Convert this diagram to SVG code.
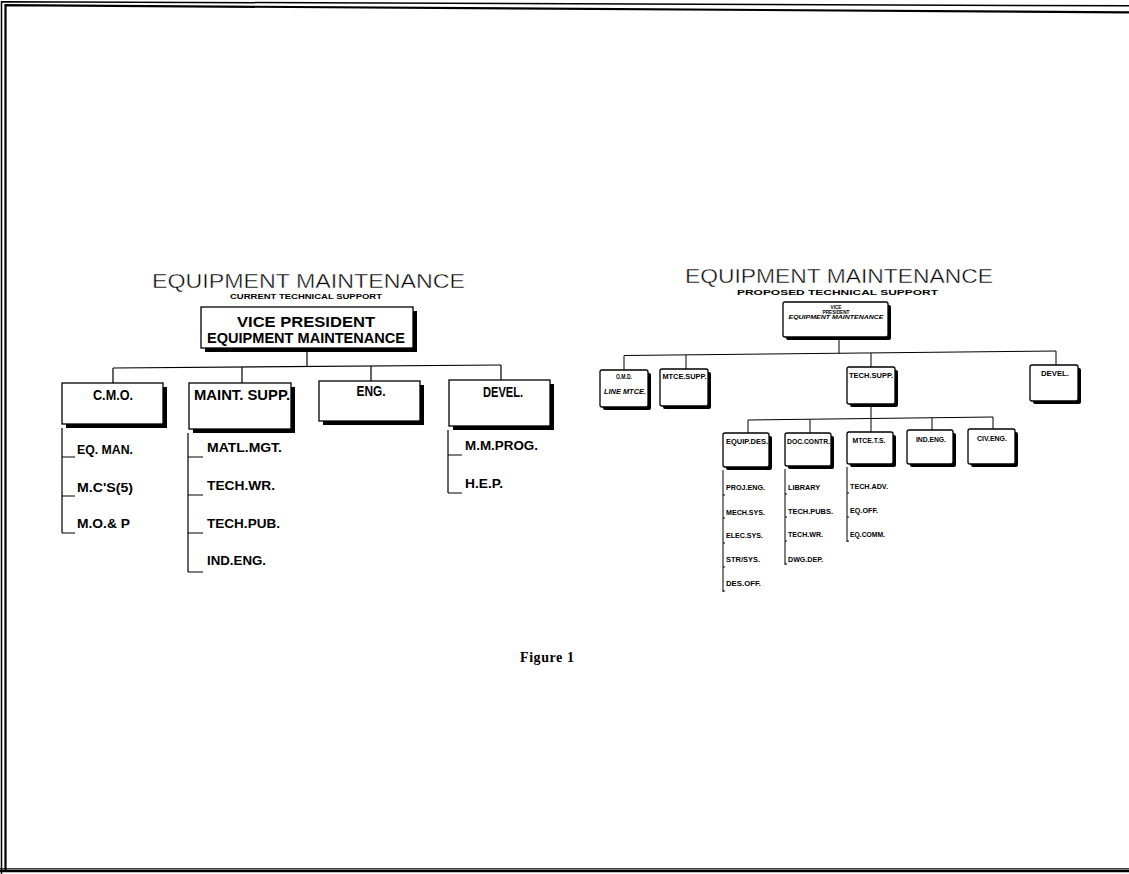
<svg xmlns="http://www.w3.org/2000/svg" width="1129" height="874" viewBox="0 0 1129 874">
<style>
.bg{fill:#fff}
.frm{fill:none;stroke:#000}
.ln{fill:none;stroke:#000;stroke-width:1.2}
.ln2{fill:none;stroke:#000;stroke-width:1}
.box{fill:#fff;stroke:#000;stroke-width:1.3}
.sh{fill:#000}
.title{font-family:"Liberation Sans",Arial,sans-serif;font-size:21px;font-weight:normal;fill:#000;stroke:#fff;stroke-width:0.45}
.sub{font-family:"Liberation Sans",Arial,sans-serif;font-weight:bold;fill:#000}
.lb{font-family:"Liberation Sans",Arial,sans-serif;font-weight:bold;font-size:14px;fill:#000}
.it{font-family:"Liberation Sans",Arial,sans-serif;font-weight:bold;font-size:12.5px;fill:#000}
.sm{font-family:"Liberation Sans",Arial,sans-serif;font-weight:bold;font-size:7px;fill:#000}
.fig{font-family:"Liberation Serif","Times New Roman",serif;font-weight:bold;font-size:14px;fill:#000}
</style>
<rect class="bg" x="0" y="0" width="1129" height="874"/>
<g id="frame">
<path class="frm" stroke-width="1.5" d="M1.5 874 V1.7 L1129 5.8"/>
<path class="frm" stroke-width="2.2" d="M5.5 870 V5.2 L1129 12.3"/>
<path class="frm" stroke-width="1.2" d="M0 868.8 H1129"/>
<path class="frm" stroke-width="2.2" d="M0 871.2 H1129"/>
</g>

<!-- LEFT CHART -->
<g id="left-title">
<text class="title" x="308.5" y="287.5" text-anchor="middle" textLength="313" lengthAdjust="spacingAndGlyphs">EQUIPMENT MAINTENANCE</text>
<text class="sub" x="306" y="299" font-size="8" text-anchor="middle" textLength="152" lengthAdjust="spacingAndGlyphs">CURRENT TECHNICAL SUPPORT</text>
</g>
<g id="left-connectors">
<path class="ln" d="M307 352 V366.5"/>
<path class="ln" d="M113 368 L501 365"/>
<path class="ln" d="M113 368 V383 M242 367 V383 M371 366 V381 M501 365 V380"/>
<path class="ln" d="M62 428 V533 M62 457 H75 M62 496 H75 M62 533 H75"/>
<path class="ln" d="M188 433 V572 M188 457 H203 M188 495 H203 M188 533 H203 M188 572 H203"/>
<path class="ln" d="M448 430 V493 M448 455 H462 M448 493 H462"/>
</g>
<g id="left-vp">
<rect class="sh" x="205" y="311" width="212" height="41"/>
<rect class="box" x="201" y="307" width="212" height="41"/>
<text class="sub" x="306" y="326.5" font-size="15.5" text-anchor="middle" textLength="138" lengthAdjust="spacingAndGlyphs">VICE PRESIDENT</text>
<text class="sub" x="306" y="343" font-size="15.5" text-anchor="middle" textLength="198" lengthAdjust="spacingAndGlyphs">EQUIPMENT MAINTENANCE</text>
</g>
<g id="left-cmo">
<rect class="sh" x="66" y="387" width="101" height="41"/>
<rect class="box" x="62" y="383" width="101" height="41"/>
<text class="lb" x="113" y="400" text-anchor="middle" textLength="40" lengthAdjust="spacingAndGlyphs">C.M.O.</text>
</g>
<g id="left-maint">
<rect class="sh" x="193" y="387" width="102" height="46"/>
<rect class="box" x="189" y="383" width="102" height="46"/>
<text class="lb" x="242" y="400" text-anchor="middle" textLength="96" lengthAdjust="spacingAndGlyphs">MAINT. SUPP.</text>
</g>
<g id="left-eng">
<rect class="sh" x="323" y="385" width="101" height="40"/>
<rect class="box" x="319" y="381" width="101" height="40"/>
<text class="lb" x="371" y="395.5" text-anchor="middle" textLength="29" lengthAdjust="spacingAndGlyphs">ENG.</text>
</g>
<g id="left-devel">
<rect class="sh" x="453" y="384" width="101" height="46"/>
<rect class="box" x="449" y="380" width="101" height="46"/>
<text class="lb" x="503" y="397" text-anchor="middle" textLength="40" lengthAdjust="spacingAndGlyphs">DEVEL.</text>
</g>
<g id="left-items">
<text class="it" x="77" y="454" textLength="56" lengthAdjust="spacingAndGlyphs">EQ. MAN.</text>
<text class="it" x="77" y="492" textLength="56" lengthAdjust="spacingAndGlyphs">M.C'S(5)</text>
<text class="it" x="77" y="528" textLength="53" lengthAdjust="spacingAndGlyphs">M.O.&amp; P</text>
<text class="it" x="207" y="452" textLength="75" lengthAdjust="spacingAndGlyphs">MATL.MGT.</text>
<text class="it" x="207" y="490" textLength="68" lengthAdjust="spacingAndGlyphs">TECH.WR.</text>
<text class="it" x="207" y="528" textLength="73" lengthAdjust="spacingAndGlyphs">TECH.PUB.</text>
<text class="it" x="207" y="565" textLength="59" lengthAdjust="spacingAndGlyphs">IND.ENG.</text>
<text class="it" x="465" y="450" textLength="73" lengthAdjust="spacingAndGlyphs">M.M.PROG.</text>
<text class="it" x="465" y="488" textLength="38" lengthAdjust="spacingAndGlyphs">H.E.P.</text>
</g>

<!-- RIGHT CHART -->
<g id="right-title">
<text class="title" x="839" y="282.5" text-anchor="middle" textLength="308" lengthAdjust="spacingAndGlyphs">EQUIPMENT MAINTENANCE</text>
<text class="sub" x="837.5" y="294.5" font-size="7.2" text-anchor="middle" textLength="201" lengthAdjust="spacingAndGlyphs">PROPOSED TECHNICAL SUPPORT</text>
</g>
<g id="right-connectors">
<path class="ln2" d="M839 340 V353.5"/>
<path class="ln2" d="M624 355.5 L1056 351"/>
<path class="ln2" d="M624 355.5 V370 M686 355 V369 M871 353 V367 M1056 351 V365"/>
<path class="ln2" d="M871 407 V419"/>
<path class="ln2" d="M748 420 L993 417"/>
<path class="ln2" d="M748 420 V433 M810 419.5 V433 M871 419 V432 M932 418 V430 M993 417 V429"/>
<path class="ln2" d="M723 470 V592 M723 495 H725 M723 518 H725 M723 543 H725 M723 567 H725 M723 591 H725"/>
<path class="ln2" d="M785 469 V565 M785 494 H787 M785 517 H787 M785 541 H787 M785 564 H787"/>
<path class="ln2" d="M847 467 V542 M847 493 H849 M847 517 H849 M847 541 H849"/>
</g>
<g id="right-vp">
<rect class="sh" x="786" y="305" width="105" height="35" rx="2"/>
<rect class="box" x="783" y="302" width="105" height="35" rx="2" stroke-width="1"/>
<text class="sub" x="836" y="309" font-size="4.8" text-anchor="middle" textLength="11" lengthAdjust="spacingAndGlyphs">VICE</text>
<text class="sub" x="836" y="314" font-size="4.8" text-anchor="middle" textLength="27" lengthAdjust="spacingAndGlyphs">PRESIDENT</text>
<text class="sub" x="836" y="319" font-size="4.8" font-style="italic" text-anchor="middle" textLength="95" lengthAdjust="spacingAndGlyphs">EQUIPMENT MAINTENANCE</text>
</g>
<g id="right-omd">
<rect class="sh" x="603" y="373" width="48" height="37" rx="2"/>
<rect class="box" x="600" y="370" width="48" height="37" rx="2" stroke-width="1"/>
<text class="sm" x="624" y="378.5" text-anchor="middle" textLength="16" lengthAdjust="spacingAndGlyphs">O.M.D.</text>
<text class="sm" x="625" y="394" font-style="italic" text-anchor="middle" textLength="42" lengthAdjust="spacingAndGlyphs">LINE MTCE.</text>
</g>
<g id="right-mtcesupp">
<rect class="sh" x="663" y="372" width="48" height="37" rx="2"/>
<rect class="box" x="660" y="369" width="48" height="37" rx="2" stroke-width="1"/>
<text class="sm" x="684.5" y="378.5" text-anchor="middle" textLength="44" lengthAdjust="spacingAndGlyphs">MTCE.SUPP.</text>
</g>
<g id="right-techsupp">
<rect class="sh" x="850" y="370" width="48" height="37" rx="2"/>
<rect class="box" x="847" y="367" width="48" height="37" rx="2" stroke-width="1"/>
<text class="sm" x="871" y="377.5" text-anchor="middle" textLength="44" lengthAdjust="spacingAndGlyphs">TECH.SUPP.</text>
</g>
<g id="right-devel">
<rect class="sh" x="1033" y="368" width="48" height="36" rx="2"/>
<rect class="box" x="1030" y="365" width="48" height="36" rx="2" stroke-width="1"/>
<text class="sm" x="1055" y="376" text-anchor="middle" textLength="28" lengthAdjust="spacingAndGlyphs">DEVEL.</text>
</g>
<g id="right-equipdes">
<rect class="sh" x="726" y="436" width="46" height="34" rx="2"/>
<rect class="box" x="723" y="433" width="46" height="34" rx="2" stroke-width="1"/>
<text class="sm" x="747" y="443.5" text-anchor="middle" textLength="42" lengthAdjust="spacingAndGlyphs">EQUIP.DES.</text>
</g>
<g id="right-doccontr">
<rect class="sh" x="788" y="436" width="46" height="33" rx="2"/>
<rect class="box" x="785" y="433" width="46" height="33" rx="2" stroke-width="1"/>
<text class="sm" x="808.5" y="443.5" text-anchor="middle" textLength="43" lengthAdjust="spacingAndGlyphs">DOC.CONTR.</text>
</g>
<g id="right-mtcets">
<rect class="sh" x="850" y="435" width="46" height="32" rx="2"/>
<rect class="box" x="847" y="432" width="46" height="32" rx="2" stroke-width="1"/>
<text class="sm" x="869" y="443" text-anchor="middle" textLength="33" lengthAdjust="spacingAndGlyphs">MTCE.T.S.</text>
</g>
<g id="right-indeng">
<rect class="sh" x="910" y="433" width="46" height="34" rx="2"/>
<rect class="box" x="907" y="430" width="46" height="34" rx="2" stroke-width="1"/>
<text class="sm" x="931" y="442" text-anchor="middle" textLength="30" lengthAdjust="spacingAndGlyphs">IND.ENG.</text>
</g>
<g id="right-civeng">
<rect class="sh" x="971" y="432" width="47" height="35" rx="2"/>
<rect class="box" x="968" y="429" width="47" height="35" rx="2" stroke-width="1"/>
<text class="sm" x="992" y="441" text-anchor="middle" textLength="30" lengthAdjust="spacingAndGlyphs">CIV.ENG.</text>
</g>
<g id="right-items">
<text class="sm" x="726" y="489.5" textLength="39" lengthAdjust="spacingAndGlyphs">PROJ.ENG.</text>
<text class="sm" x="726" y="514.5" textLength="39" lengthAdjust="spacingAndGlyphs">MECH.SYS.</text>
<text class="sm" x="726" y="537.5" textLength="37" lengthAdjust="spacingAndGlyphs">ELEC.SYS.</text>
<text class="sm" x="726" y="561.5" textLength="34" lengthAdjust="spacingAndGlyphs">STR/SYS.</text>
<text class="sm" x="726" y="585.5" textLength="35" lengthAdjust="spacingAndGlyphs">DES.OFF.</text>
<text class="sm" x="788" y="489.5" textLength="32" lengthAdjust="spacingAndGlyphs">LIBRARY</text>
<text class="sm" x="788" y="513.5" textLength="45" lengthAdjust="spacingAndGlyphs">TECH.PUBS.</text>
<text class="sm" x="788" y="536.5" textLength="35" lengthAdjust="spacingAndGlyphs">TECH.WR.</text>
<text class="sm" x="788" y="561.5" textLength="35" lengthAdjust="spacingAndGlyphs">DWG.DEP.</text>
<text class="sm" x="850" y="488.5" textLength="38" lengthAdjust="spacingAndGlyphs">TECH.ADV.</text>
<text class="sm" x="850" y="512.5" textLength="28" lengthAdjust="spacingAndGlyphs">EQ.OFF.</text>
<text class="sm" x="850" y="536.5" textLength="35" lengthAdjust="spacingAndGlyphs">EQ.COMM.</text>
</g>
<text class="fig" x="520" y="662" textLength="54" lengthAdjust="spacing">Figure 1</text>
</svg>
